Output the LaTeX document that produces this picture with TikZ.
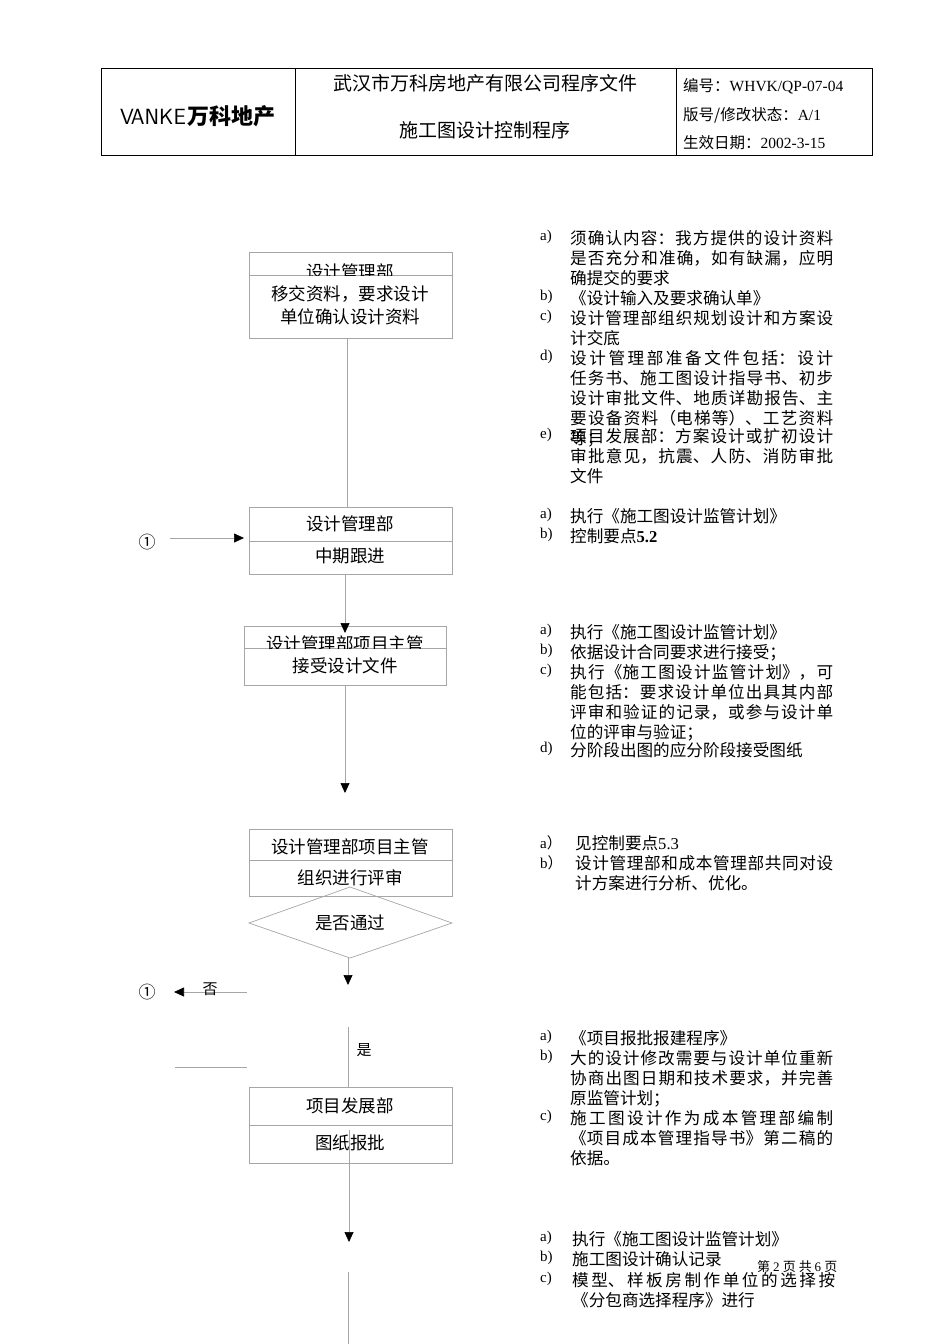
\documentclass[tikz,border=0pt]{standalone}
\usepackage{fontspec}
\setmainfont{Liberation Serif}
\newfontfamily\cjk{Noto Sans CJK SC}
\XeTeXlinebreaklocale "zh"
\XeTeXlinebreakskip=0pt plus 1pt
\usetikzlibrary{shapes.geometric,arrows.meta}
\begin{document}
\begin{tikzpicture}[x=1pt,y=-1pt,
  bx/.style={draw=black!35,line width=0.7pt},
  ln/.style={draw=black!35,line width=0.7pt},
  tip/.style={-{Triangle[length=10pt,width=9pt,fill=black,color=black]},draw=black!35,line width=0.7pt},
  lab/.style={font=\cjk\fontsize{17.5}{20}\selectfont,inner sep=0},
  note/.style={anchor=north west,font=\cjk\fontsize{16.6}{20}\selectfont,inner sep=0,text width=263pt,align=justify},
  mk/.style={anchor=north west,font=\fontsize{15}{20}\selectfont,inner sep=0}]
\useasboundingbox (0,0) rectangle (950,1344);
% header
\draw[line width=0.7pt] (101,68) rectangle (872,155);
\draw[line width=0.7pt] (295,68) -- (295,155) (676,68) -- (676,155);
\node[inner sep=0] (logo) at (198,116) {\fontsize{22}{22}\selectfont\sffamily V\kern-3pt ANKE\kern2pt\cjk\bfseries\itshape 万科地产};
\node[lab,font=\cjk\fontsize{19}{22}\selectfont] (h1) at (485,83) {武汉市万科房地产有限公司程序文件};
\node[lab,font=\cjk\fontsize{19}{22}\selectfont] (h2) at (485,130) {施工图设计控制程序};
\node[anchor=west,inner sep=0,font=\cjk\fontsize{15.5}{18}\selectfont] (h3) at (683,86) {编号：\rmfamily WHVK/QP-07-04};
\node[anchor=west,inner sep=0,font=\cjk\fontsize{15.5}{18}\selectfont] (h4) at (683,115) {版号/修改状态：\rmfamily A/1};
\node[anchor=west,inner sep=0,font=\cjk\fontsize{15.5}{18}\selectfont] (h5) at (683,143) {生效日期：\rmfamily 2002-3-15};
% boxes
\draw[bx] (249,252) rectangle (452,338); \draw[ln] (249,275) -- (452,275);
\begin{scope}\clip (249,252) rectangle (452,275);
\node[lab] (b1a) at (350,272) {设计管理部};\end{scope}
\node[lab,align=center,font=\cjk\fontsize{17.5}{23}\selectfont] (b1b) at (350,305) {移交资料，要求设计\\单位确认设计资料};
\coordinate (b1) at (347,338);
\draw[bx] (249,507) rectangle (452,574); \draw[ln] (249,541) -- (452,541);
\node[lab] (b2a) at (350,524) {设计管理部};
\node[lab] (b2b) at (350,556) {中期跟进};
\coordinate (b2t) at (345,633); \coordinate (b2l) at (244,538); \coordinate (b2) at (345,574);
\draw[bx] (244,626) rectangle (446,685); \draw[ln] (244,648) -- (446,648);
\begin{scope}\clip (244,626) rectangle (446,648);
\node[lab] (b3a) at (345,644) {设计管理部项目主管};\end{scope}
\node[lab] (b3b) at (345,666) {接受设计文件};
\coordinate (b3) at (345,685); \coordinate (a3) at (345,793);
\draw[bx] (249,829) rectangle (452,896); \draw[ln] (249,860) -- (452,860);
\node[lab] (b4a) at (350,847) {设计管理部项目主管};
\node[lab] (b4b) at (350,878) {组织进行评审};
\draw[bx] (350,887) -- (452,923) -- (350,958) -- (249,923) -- cycle;
\node[lab] (d) at (350,923) {是否通过};
\coordinate (dB) at (348,958); \coordinate (dA) at (348,985);
\draw[bx] (249,1087) rectangle (452,1163); \draw[ln] (249,1125) -- (452,1125);
\node[lab] (b5a) at (350,1106) {项目发展部};
\node[lab] (b5b) at (350,1143) {图纸报批};
\coordinate (b5) at (349,1130); \coordinate (a5) at (349,1242);
% connectors
\draw[ln] (b1) -- (347,507);
\draw[tip] (b2) -- (b2t);
\draw[tip] (b3) -- (a3);
\draw[tip] (dB) -- (dA);
\node[inner sep=0,font=\fontsize{17}{17}\selectfont\cjk] (c1) at (147,542) {①};
\draw[tip] (170,538) -- (b2l);
\node[inner sep=0,font=\fontsize{17}{17}\selectfont\cjk] (c2) at (147,992) {①};
\coordinate (n0) at (247,992); \coordinate (n1) at (174,992);
\draw[tip] (n0) -- (n1);
\node[lab,font=\cjk\fontsize{15}{17}\selectfont] (no) at (210,989) {否};
\coordinate (y0) at (348,1027); \coordinate (y1) at (348,1087);
\draw[ln] (y0) -- (y1);
\node[lab,font=\cjk\fontsize{15}{17}\selectfont] (yes) at (364,1050) {是};
\coordinate (s0) at (175,1067); \coordinate (s1) at (247,1067);
\draw[ln] (s0) -- (s1);
\draw[tip] (b5) -- (a5);
\coordinate (e0) at (348,1272); \coordinate (e1) at (348,1344);
\draw[ln] (e0) -- (e1);
% notes
\node[mk] (m1) at (540,230) {a)};
\node[note] (t1) at (570,230) {须确认内容：我方提供的设计资料是否充分和准确，如有缺漏，应明确提交的要求};
\node[mk] at (540,290) {b)}; \node[note] at (570,290) {《设计输入及要求确认单》};
\node[mk] at (540,310) {c)}; \node[note] at (570,310) {设计管理部组织规划设计和方案设计交底};
\node[mk] at (540,350) {d)}; \node[note] at (570,350) {设计管理部准备文件包括：设计任务书、施工图设计指导书、初步设计审批文件、地质详勘报告、主要设备资料（电梯等）、工艺资料等；};
\node[mk] at (540,428) {e)}; \node[note] at (570,428) {项目发展部：方案设计或扩初设计审批意见，抗震、人防、消防审批文件};
\node[mk] at (540,508) {a)}; \node[note] at (570,508) {执行《施工图设计监管计划》};
\node[mk] at (540,528) {b)}; \node[note] at (570,528) {控制要点\rmfamily\bfseries 5.2};
\node[mk] at (540,624) {a)}; \node[note] at (570,624) {执行《施工图设计监管计划》};
\node[mk] at (540,644) {b)}; \node[note] at (570,644) {依据设计合同要求进行接受；};
\node[mk] at (540,664) {c)}; \node[note] at (570,664) {执行《施工图设计监管计划》，可能包括：要求设计单位出具其内部评审和验证的记录，或参与设计单位的评审与验证；};
\node[mk] at (540,742) {d)}; \node[note] at (570,742) {分阶段出图的应分阶段接受图纸};
\node[mk] at (540,835) {a\cjk）}; \node[note] at (575,835) {见控制要点\rmfamily 5.3};
\node[mk] at (540,855) {b\cjk）}; \node[note,text width=258pt] at (575,855) {设计管理部和成本管理部共同对设计方案进行分析、优化。};
\node[mk] at (540,1030) {a)}; \node[note] at (570,1030) {《项目报批报建程序》};
\node[mk] at (540,1050) {b)}; \node[note] at (570,1050) {大的设计修改需要与设计单位重新协商出图日期和技术要求，并完善原监管计划；};
\node[mk] at (540,1110) {c)}; \node[note] at (570,1110) {施工图设计作为成本管理部编制《项目成本管理指导书》第二稿的依据。};
\node[mk] at (540,1231) {a)}; \node[note] at (572,1231) {执行《施工图设计监管计划》};
\node[mk] at (540,1251) {b)}; \node[note] at (572,1251) {施工图设计确认记录};
\node[mk] at (540,1272) {c)}; \node[note] at (572,1272) {模型、样板房制作单位的选择按《分包商选择程序》进行};
\node[anchor=west,inner sep=0,font=\cjk\fontsize{13}{15}\selectfont] (pg) at (757,1267) {第 \rmfamily 2 \cjk 页 共 \rmfamily 6 \cjk 页};
\end{tikzpicture}
\end{document}
